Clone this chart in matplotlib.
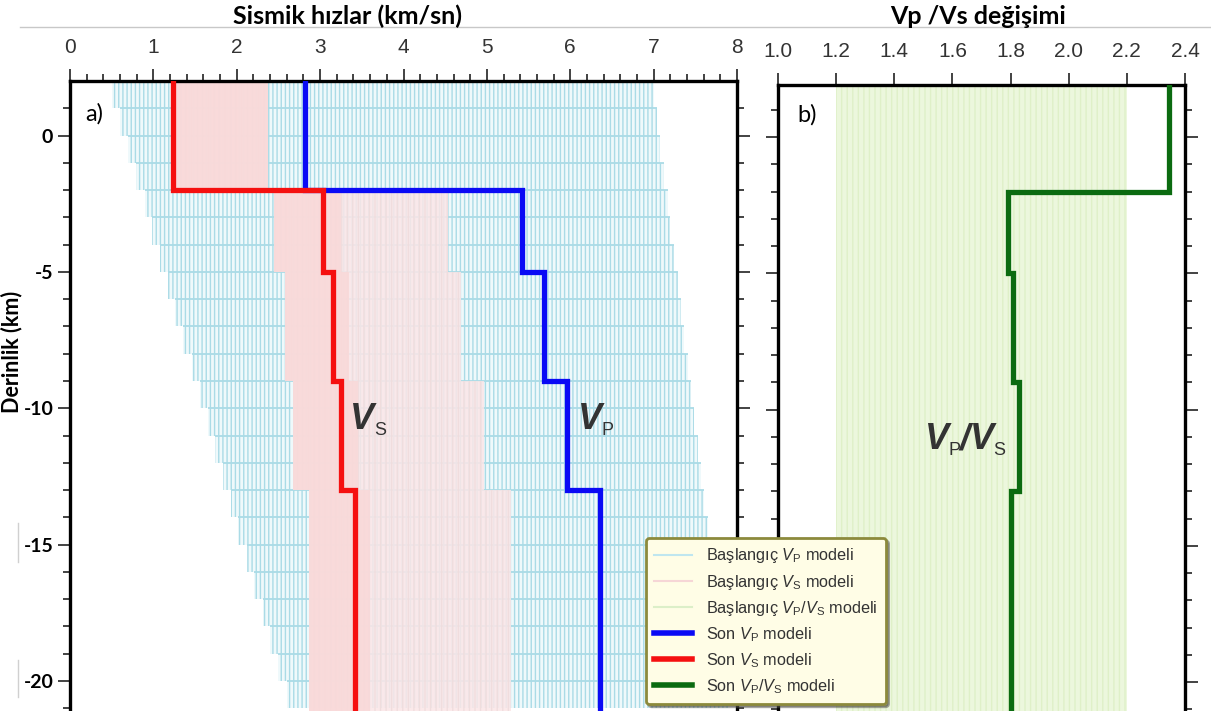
import numpy as np
import matplotlib
matplotlib.use('Agg')
import matplotlib.pyplot as plt
from matplotlib.lines import Line2D

plt.rcParams['font.family'] = ['Liberation Sans', 'DejaVu Sans']
plt.rcParams['mathtext.fontset'] = 'custom'
plt.rcParams['mathtext.it'] = 'Liberation Sans:italic'
plt.rcParams['mathtext.rm'] = 'Liberation Sans'
plt.rcParams['mathtext.bf'] = 'Liberation Sans:bold'
plt.rcParams['axes.unicode_minus'] = False
plt.rcParams['hatch.linewidth'] = 1.0

# 1 km layers of the starting Vp models (top of each layer)
layer_top = [2, 1, 0, -1, -2, -3, -4, -5, -6, -7, -8, -9, -10, -11, -12,
             -13, -14, -15, -16, -17, -18, -19, -20]
vp_init_min = [0.50, 0.60, 0.69, 0.79, 0.90, 0.98, 1.08, 1.18, 1.26, 1.36, 1.46, 1.56,
               1.66, 1.74, 1.84, 1.93, 2.02, 2.12, 2.21, 2.32, 2.40, 2.50, 2.60]
vp_init_max = [7.00, 7.04, 7.08, 7.12, 7.17, 7.20, 7.25, 7.29, 7.33, 7.37, 7.41, 7.45,
               7.49, 7.53, 7.57, 7.61, 7.65, 7.69, 7.73, 7.77, 7.81, 7.85, 7.89]

# final model layers
model_bounds = [2.5, -2, -5, -9, -13, -22]
vp_final = [2.82, 5.42, 5.68, 5.96, 6.36]
vs_final = [1.24, 3.04, 3.15, 3.25, 3.42]
vpvs_final = [2.345, 1.79, 1.81, 1.83, 1.80]

# starting Vs models range, per final layer
vs_init_min = [1.24, 2.45, 2.58, 2.68, 2.87]
vs_init_dense = [2.38, 3.25, 3.35, 3.45, 3.60]
vs_init_max = [2.38, 4.53, 4.69, 4.96, 5.29]

# starting Vp/Vs range
vpvs_init_min = 1.2
vpvs_init_max = 2.2

TXT = '#333333'


def glyph(ax, x, y, s, dx, dy, size):
    ax.annotate(s, (x, y), xytext=(dx, dy), textcoords='offset points', fontsize=size,
                fontstyle='normal' if size < 20 else 'italic',
                fontweight='normal' if size < 20 else 'bold',
                color=TXT, ha='left', va='center', zorder=5)


def profile(vals, bounds):
    y = np.repeat(bounds, 2)[1:-1]
    x = np.repeat(vals, 2)
    return x, y


fig = plt.figure(figsize=(12.11, 7.11), dpi=100)
W, H = 1211.0, 711.0
ax1 = fig.add_axes([70 / W, 0, (737 - 70) / W, (711 - 81) / H])
ax2 = fig.add_axes([778 / W, 0, (1185 - 778) / W, (711 - 85) / H])

blue_line = '#aadbe6'
for i, top in enumerate(layer_top):
    ax1.fill_betweenx([top, top - 1], vp_init_min[i], vp_init_max[i],
                      facecolor='#eff9fb', edgecolor=blue_line, hatch='||||',
                      linewidth=0, zorder=1)
    ax1.hlines(top, vp_init_min[i], vp_init_max[i], color=blue_line, lw=1.3, zorder=1.5)

for i in range(len(vs_init_min)):
    yy = [model_bounds[i], model_bounds[i + 1]]
    ax1.fill_betweenx(yy, vs_init_min[i], vs_init_max[i], facecolor='#fbe6e7',
                      edgecolor='#efdcdc', hatch='|||', linewidth=0, alpha=0.85, zorder=2)
    ax1.fill_betweenx(yy, vs_init_min[i], vs_init_dense[i], facecolor='#f9d9d9',
                      linewidth=0, alpha=0.9, zorder=2.1)

x, y = profile(vp_final, model_bounds)
ax1.plot(x, y, color='#0a0af5', lw=3.8, solid_joinstyle='miter', zorder=4)
x, y = profile(vs_final, model_bounds)
ax1.plot(x, y, color='#f51010', lw=3.8, solid_joinstyle='miter', zorder=4)

ax2.fill_betweenx([model_bounds[0], model_bounds[-1]], vpvs_init_min, vpvs_init_max,
                  facecolor='#ecf7dd', edgecolor='#dff0c8', hatch='|||', linewidth=0, zorder=1)
x, y = profile(vpvs_final, model_bounds)
ax2.plot(x, y, color='#0b6b10', lw=3.8, solid_joinstyle='miter', zorder=4)

ax1.set_xlim(0, 8)
ax1.set_ylim(-21.1, 2.0)
ax2.set_xlim(1.0, 2.4)
ax2.set_ylim(-21.06, 1.91)

for ax in (ax1, ax2):
    for s in ('left', 'top', 'right'):
        ax.spines[s].set_linewidth(2.4)
    ax.spines['bottom'].set_visible(False)
    ax.xaxis.set_ticks_position('top')
    ax.yaxis.set_ticks_position('both')
    ax.tick_params(axis='both', which='major', direction='out', length=9, width=1.2,
                   colors='#222222', labelsize=15)
    ax.tick_params(axis='both', which='minor', direction='out', length=5, width=1.2,
                   colors='#222222')
    ax.tick_params(axis='x', labelcolor=TXT, pad=8)
    ax.set_yticks([0, -5, -10, -15, -20])
    ax.set_yticks(np.arange(-21, 2), minor=True)

ax1.set_xticks(np.arange(0, 9))
ax1.set_xticks(np.arange(0, 8.01, 0.2), minor=True)
ax2.set_xticks(np.arange(1.0, 2.41, 0.2))
ax2.set_xticklabels(['%.1f' % v for v in np.arange(1.0, 2.41, 0.2)])
ax2.tick_params(axis='y', labelleft=False, labelright=False)
ax1.tick_params(axis='y', labelright=False, labelleft=True, pad=3)
for lab in ax1.get_yticklabels():
    lab.set_fontfamily('Lato')
    lab.set_fontweight('bold')
    lab.set_fontsize(14)
    lab.set_color('black')

ax1.text(0.18, 0.8, 'a)', fontsize=17, fontfamily='Lato', va='center')
ax2.text(1.065, 0.8, 'b)', fontsize=17, fontfamily='Lato', va='center')

# curve labels: big italic V with small subscripts
glyph(ax1, 3.36, -10.4, 'V', 0, 0, 26)
glyph(ax1, 3.36, -10.4, 'S', 17, -8, 13)
glyph(ax1, 6.09, -10.4, 'V', 0, 0, 26)
glyph(ax1, 6.09, -10.4, 'P', 17, -8, 13)
glyph(ax2, 1.506, -11.1, 'V', 0, 0, 26)
glyph(ax2, 1.506, -11.1, 'P', 17, -8, 13)
glyph(ax2, 1.506, -11.1, '/', 25, 0, 26)
glyph(ax2, 1.506, -11.1, 'V', 32, 0, 26)
glyph(ax2, 1.506, -11.1, 'S', 49, -8, 13)

fig.text(348 / W, 1 - 16 / H, 'Sismik hızlar (km/sn)', fontsize=18, fontweight='bold',
         fontfamily='Lato', ha='center', va='center')
fig.text(978 / W, 1 - 16 / H, 'Vp /Vs değişimi', fontsize=18, fontweight='bold',
         fontfamily='Lato', ha='center', va='center')
fig.text(12 / W, 1 - 352 / H, 'Derinlik (km)', fontsize=15.5, fontweight='bold',
         fontfamily='Lato', rotation=90, ha='center', va='center')

fig.add_artist(Line2D([20 / W, 1], [1 - 27 / H, 1 - 27 / H], color='#c8c8c8', lw=1))
for y0, y1 in ((523, 562), (660, 697)):
    fig.add_artist(Line2D([18 / W, 18 / W], [1 - y0 / H, 1 - y1 / H], color='#d0d0d0', lw=1))

handles = [
    Line2D([], [], color='#bfe6ef', lw=1.5),
    Line2D([], [], color='#f6d6d6', lw=1.5),
    Line2D([], [], color='#dcefc8', lw=1.5),
    Line2D([], [], color='#0a0af5', lw=4),
    Line2D([], [], color='#f51010', lw=4),
    Line2D([], [], color='#0b6b10', lw=4),
]
labels = [
    r'Başlangıç $V_{\mathrm{P}}$ modeli',
    r'Başlangıç $V_{\mathrm{S}}$ modeli',
    r'Başlangıç $V_{\mathrm{P}}/V_{\mathrm{S}}$ modeli',
    r'Son $V_{\mathrm{P}}$ modeli',
    r'Son $V_{\mathrm{S}}$ modeli',
    r'Son $V_{\mathrm{P}}/V_{\mathrm{S}}$ modeli',
]
leg = fig.legend(handles, labels, loc='lower left', bbox_to_anchor=(646 / W, 7 / H),
                 fontsize=11.7, frameon=True, fancybox=True, shadow=True,
                 handlelength=2.3, labelspacing=0.45, borderpad=0.5, handletextpad=0.9,
                 borderaxespad=0, facecolor='#fffde6', edgecolor='#8c8a3c', framealpha=1)
leg.get_frame().set_linewidth(2)
leg.set_zorder(10)
for t in leg.get_texts():
    t.set_color(TXT)

fig.savefig('out.png', dpi=100)
